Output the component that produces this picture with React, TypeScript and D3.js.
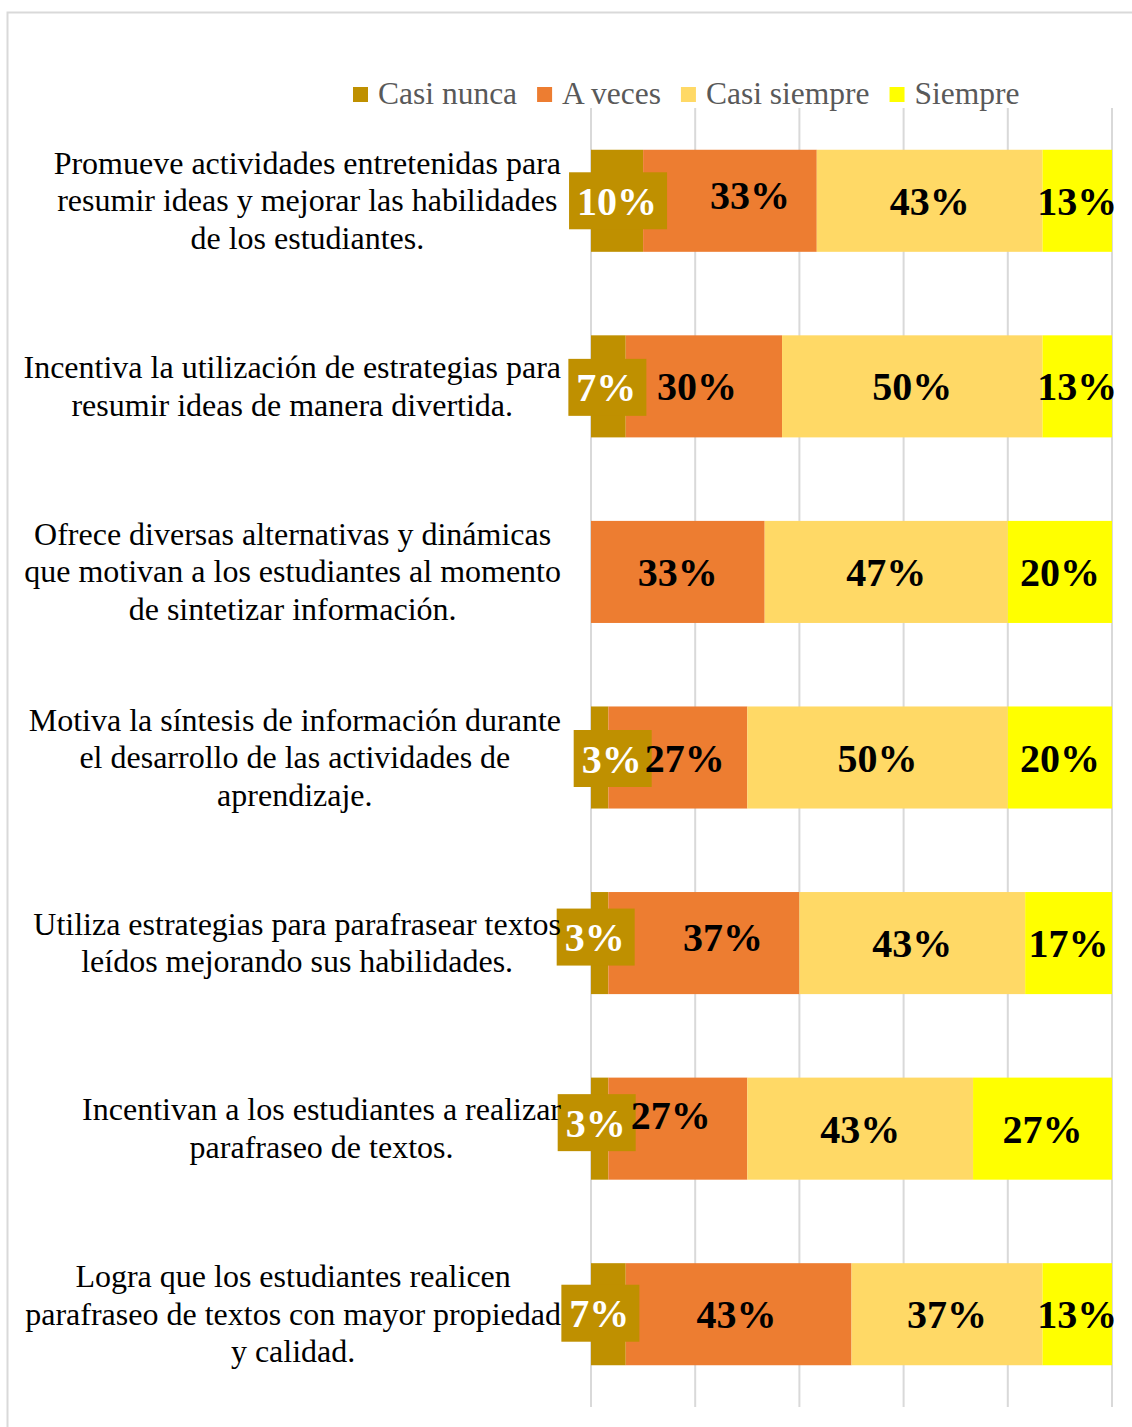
import React, { useRef, useEffect } from "react";
import * as d3 from "d3";

// respondents per answer (n = 30) for each statement
const categoryLines = [
  ["Promueve actividades entretenidas para", "resumir ideas y mejorar las habilidades", "de los estudiantes."],
  ["Incentiva la utilización de estrategias para", "resumir ideas de manera divertida."],
  ["Ofrece diversas alternativas y dinámicas", "que motivan a los estudiantes al momento", "de sintetizar información."],
  ["Motiva la síntesis de información durante", "el desarrollo de las actividades de", "aprendizaje."],
  ["Utiliza estrategias para parafrasear textos", "leídos mejorando sus habilidades."],
  ["Incentivan a los estudiantes a realizar", "parafraseo de textos."],
  ["Logra que los estudiantes realicen", "parafraseo de textos con mayor propiedad", "y calidad."],
];
const seriesNames = ["Casi nunca", "A veces", "Casi siempre", "Siempre"];
const casiNunca = [3, 2, 0, 1, 1, 1, 2];
const aVeces = [10, 9, 10, 8, 11, 8, 13];
const casiSiempre = [13, 15, 14, 15, 13, 13, 11];
const siempre = [4, 4, 6, 6, 5, 8, 4];
const respondents = 30;
const xTicks = [0, 20, 40, 60, 80, 100];

const colors = ["#BF9000", "#ED7D31", "#FFD966", "#FFFF00"];
// labels that were dragged by hand in the original
const cnNudge = [[0, 0], [-2, 1], [0, 0], [12, 1], [-5, -6], [-4, -6], [-9, -1]];
const avNudge = [[20, -6], [-7, 0], [0, 0], [7, 0], [19, -6], [-7, -14], [-2, 0]];

const FONT = '"Liberation Serif", "Times New Roman", serif';

const App = () => {
  const ref = useRef<SVGSVGElement>(null);

  useEffect(() => {
    const svg = d3.select(ref.current);
    svg.selectAll("*").remove();

    const width = 1132;
    const height = 1427;
    const plot = { left: 591, right: 1112, top: 108, bottom: 1407 };

    const rows = categoryLines.map((lines, i) => ({
      key: String(i),
      lines,
      "Casi nunca": (casiNunca[i] / respondents) * 100,
      "A veces": (aVeces[i] / respondents) * 100,
      "Casi siempre": (casiSiempre[i] / respondents) * 100,
      Siempre: (siempre[i] / respondents) * 100,
    }));

    const x = d3.scaleLinear().domain([0, 100]).range([plot.left, plot.right]);
    const y = d3
      .scaleBand()
      .domain(rows.map((d) => d.key))
      .range([plot.top, plot.bottom])
      .paddingInner(0.45)
      .paddingOuter(0.225);

    // chart border
    svg
      .append("rect")
      .attr("x", 7.5)
      .attr("y", 12.5)
      .attr("width", width + 20)
      .attr("height", height + 20)
      .attr("fill", "none")
      .attr("stroke", "#d9d9d9")
      .attr("stroke-width", 2);

    // gridlines
    svg
      .append("g")
      .selectAll("line")
      .data(xTicks)
      .join("line")
      .attr("x1", (d) => x(d))
      .attr("x2", (d) => x(d))
      .attr("y1", plot.top)
      .attr("y2", plot.bottom)
      .attr("stroke", "#d9d9d9")
      .attr("stroke-width", 2);

    // bars
    const stack = d3.stack<any>().keys(seriesNames);
    const stacked = stack(rows);

    svg
      .append("g")
      .selectAll("g")
      .data(stacked)
      .join("g")
      .attr("fill", (_, i) => colors[i])
      .selectAll("rect")
      .data((s) => s)
      .join("rect")
      .attr("x", (d) => x(d[0]))
      .attr("y", (d) => y(d.data.key)!)
      .attr("width", (d) => x(d[1]) - x(d[0]))
      .attr("height", y.bandwidth());

    // data labels
    const pct = d3.format(".0%");
    const labels = svg.append("g").attr("font-family", FONT).attr("font-weight", "bold").attr("font-size", 40);
    stacked.forEach((s, si) => {
      s.forEach((d, ri) => {
        const v = d[1] - d[0];
        if (v <= 0) return;
        const nudge = si === 0 ? cnNudge[ri] : si === 1 ? avNudge[ri] : [0, 0];
        const cx = (x(d[0]) + x(d[1])) / 2 + nudge[0];
        const cy = y(d.data.key)! + y.bandwidth() / 2 + nudge[1];
        const g = labels.append("g");
        const t = g
          .append("text")
          .attr("x", cx)
          .attr("y", cy)
          .attr("dy", "0.35em")
          .attr("text-anchor", "middle")
          .attr("fill", si === 0 ? "#ffffff" : "#000000")
          .text(pct(v / 100));
        if (si === 0) {
          const tw = (t.node() as SVGTextElement).getComputedTextLength();
          g.insert("rect", "text")
            .attr("x", cx - tw / 2 - 8)
            .attr("y", cy - 28.5)
            .attr("width", tw + 18)
            .attr("height", 57)
            .attr("fill", colors[0]);
        }
      });
    });

    // category labels, centred block right-aligned to the axis
    const catG = svg.append("g").attr("font-family", FONT).attr("font-size", 32).attr("fill", "#000");
    const lineH = 37.5;
    rows.forEach((r) => {
      const g = catG.append("g");
      const cy = y(r.key)! + y.bandwidth() / 2;
      const n = r.lines.length;
      const texts = r.lines.map((ln, li) =>
        g
          .append("text")
          .attr("y", cy + (li - (n - 1) / 2) * lineH)
          .attr("dy", "0.33em")
          .attr("text-anchor", "middle")
          .text(ln)
      );
      const maxW = d3.max(texts, (t) => (t.node() as SVGTextElement).getComputedTextLength()) || 0;
      texts.forEach((t) => t.attr("x", 561 - maxW / 2));
    });

    // legend
    const legend = svg.append("g").attr("font-family", FONT).attr("font-size", 31.5).attr("fill", "#595959");
    let lx = 353;
    seriesNames.forEach((name, i) => {
      legend.append("rect").attr("x", lx).attr("y", 87).attr("width", 15).attr("height", 15).attr("fill", colors[i]);
      const t = legend.append("text").attr("x", lx + 25).attr("y", 104).text(name);
      lx += 25 + (t.node() as SVGTextElement).getComputedTextLength() + 20;
    });
  }, []);

  return (
    <svg
      ref={ref}
      width={1132}
      height={1427}
      style={{ position: "absolute", left: 0, top: 0, background: "#fff" }}
    ></svg>
  );
};

export default App;
